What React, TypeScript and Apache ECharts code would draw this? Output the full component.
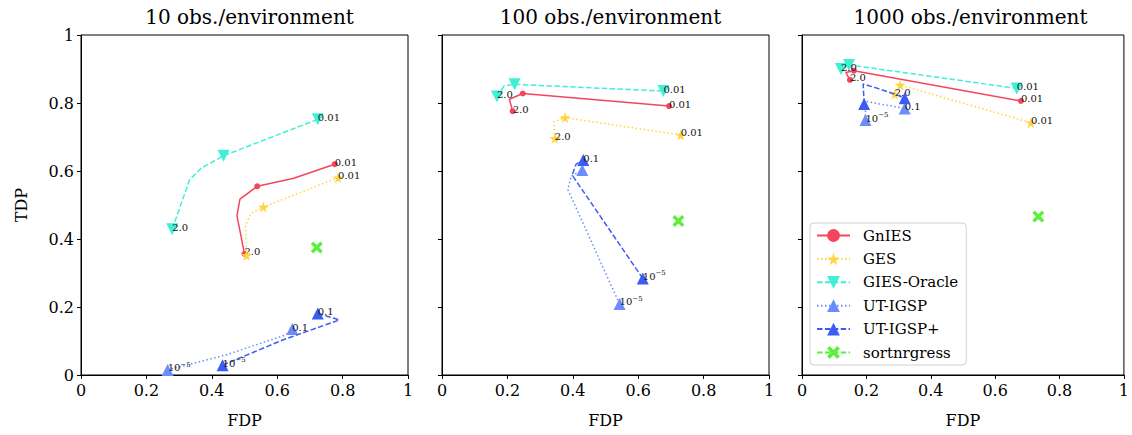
import React, { useEffect, useRef } from 'react';
import * as echarts from 'echarts';

const PANEL_TITLES = ['10 obs./environment', '100 obs./environment', '1000 obs./environment'];
const METHODS = ['GnIES', 'GES', 'GIES-Oracle', 'UT-IGSP', 'UT-IGSP+', 'sortnrgress'];
const AXIS_TICKS = [0, 0.2, 0.4, 0.6, 0.8, 1];

// each point: [FDP, TDP, marker shown (1/0), label]
type Pt = [number, number, number, string];

// 10 obs./environment
const GNIES_10: Pt[] = [[0.500, 0.356, 1, '2.0'], [0.477, 0.468, 0, ''], [0.486, 0.517, 0, ''], [0.539, 0.555, 1, ''], [0.648, 0.578, 0, ''], [0.776, 0.620, 1, '0.01']];
const GES_10: Pt[] = [[0.506, 0.352, 1, ''], [0.503, 0.440, 0, ''], [0.520, 0.475, 0, ''], [0.558, 0.494, 1, ''], [0.786, 0.580, 1, '0.01']];
const GIES_10: Pt[] = [[0.279, 0.429, 1, '2.0'], [0.332, 0.574, 0, ''], [0.367, 0.608, 0, ''], [0.436, 0.645, 1, ''], [0.724, 0.752, 1, '0.01']];
const UTIGSP_10: Pt[] = [[0.265, 0.015, 1, '10^-5'], [0.443, 0.059, 0, ''], [0.627, 0.118, 0, ''], [0.646, 0.135, 1, '0.1']];
const UTIGSPP_10: Pt[] = [[0.433, 0.029, 1, '10^-5'], [0.617, 0.103, 0, ''], [0.790, 0.162, 0, ''], [0.724, 0.181, 1, '0.1']];
const SORT_10: Pt[] = [[0.721, 0.375, 1, '']];

// 100 obs./environment
const GNIES_100: Pt[] = [[0.216, 0.776, 1, '2.0'], [0.206, 0.811, 0, ''], [0.247, 0.828, 1, ''], [0.694, 0.791, 1, '0.01']];
const GES_100: Pt[] = [[0.345, 0.696, 1, '2.0'], [0.342, 0.745, 0, ''], [0.376, 0.757, 1, ''], [0.730, 0.706, 1, '0.01']];
const GIES_100: Pt[] = [[0.168, 0.819, 1, '2.0'], [0.190, 0.850, 0, ''], [0.222, 0.855, 1, ''], [0.677, 0.835, 1, '0.01']];
const UTIGSP_100: Pt[] = [[0.543, 0.209, 1, '10^-5'], [0.385, 0.545, 0, ''], [0.395, 0.585, 0, ''], [0.429, 0.603, 1, '']];
const UTIGSPP_100: Pt[] = [[0.614, 0.284, 1, '10^-5'], [0.398, 0.588, 0, ''], [0.410, 0.620, 0, ''], [0.432, 0.632, 1, '0.1']];
const SORT_100: Pt[] = [[0.723, 0.453, 1, '']];

// 1000 obs./environment
const GNIES_1000: Pt[] = [[0.149, 0.868, 1, '2.0'], [0.136, 0.890, 0, ''], [0.161, 0.895, 1, ''], [0.680, 0.806, 1, '0.01']];
const GES_1000: Pt[] = [[0.288, 0.826, 1, '2.0'], [0.305, 0.853, 1, ''], [0.711, 0.742, 1, '0.01']];
const GIES_1000: Pt[] = [[0.121, 0.900, 1, '2.0'], [0.146, 0.912, 1, ''], [0.667, 0.843, 1, '0.01']];
const UTIGSP_1000: Pt[] = [[0.197, 0.750, 1, '10^-5'], [0.197, 0.805, 0, ''], [0.319, 0.784, 1, '0.1']];
const UTIGSPP_1000: Pt[] = [[0.193, 0.797, 1, ''], [0.190, 0.856, 0, ''], [0.235, 0.843, 0, ''], [0.283, 0.828, 0, ''], [0.319, 0.814, 1, '']];
const SORT_1000: Pt[] = [[0.734, 0.466, 1, '']];

const PANEL_DATA: Pt[][][] = [
  [GNIES_10, GES_10, GIES_10, UTIGSP_10, UTIGSPP_10, SORT_10],
  [GNIES_100, GES_100, GIES_100, UTIGSP_100, UTIGSPP_100, SORT_100],
  [GNIES_1000, GES_1000, GIES_1000, UTIGSP_1000, UTIGSPP_1000, SORT_1000],
];

const STAR = 'path://M50,0 L61,35 L98,35 L68,57 L79,91 L50,70 L21,91 L32,57 L2,35 L39,35 Z';
const XMARK = 'path://M2,0 L5,3 L8,0 L10,2 L7,5 L10,8 L8,10 L5,7 L2,10 L0,8 L3,5 L0,2 Z';
const DASH = [5.5, 2.4];
const DOT = [1.5, 2.5];

const STYLES = [
  { color: '#f5455e', symbol: 'circle', size: 6, rotate: 0, dash: 'solid' as any },
  { color: '#ffd43d', symbol: STAR, size: 11, rotate: 0, dash: DOT },
  { color: '#40f0d5', symbol: 'triangle', size: 12, rotate: 180, dash: DASH },
  { color: '#6b8cff', symbol: 'triangle', size: 12, rotate: 0, dash: DOT },
  { color: '#3d5cf5', symbol: 'triangle', size: 12, rotate: 0, dash: DASH },
  { color: '#5af03c', symbol: XMARK, size: 12, rotate: 0, dash: DASH },
];

const FONT = "'DejaVu Serif', 'Liberation Serif', serif";
const GRID_LEFTS = [81, 442, 802];
const GRID_TOP = 35;
const GRID_W = 327;
const GRID_H = 340;

function labelFmt(lab: string) {
  if (lab === '10^-5') return '{b|10}{s|−5}';
  return '{b|' + lab + '}';
}

export default function App() {
  const ref = useRef<HTMLDivElement>(null);
  useEffect(() => {
    if (!ref.current) return;
    const chart = echarts.init(ref.current, null, { renderer: 'svg' });
    const grids = GRID_LEFTS.map((l) => ({
      left: l, top: GRID_TOP, width: GRID_W, height: GRID_H,
      show: true, borderColor: '#000', borderWidth: 1, backgroundColor: 'transparent',
    }));
    const xAxes = GRID_LEFTS.map((_, i) => ({
      type: 'value', gridIndex: i, min: AXIS_TICKS[0], max: AXIS_TICKS[AXIS_TICKS.length - 1], interval: 0.2,
      name: 'FDP', nameLocation: 'middle', nameGap: 37,
      nameTextStyle: { fontFamily: FONT, fontSize: 16, color: '#000' },
      axisLine: { show: true, lineStyle: { color: '#000', width: 1 } },
      axisTick: { show: true, inside: false, length: 4, lineStyle: { color: '#000' } },
      axisLabel: { fontFamily: FONT, fontSize: 16, color: '#000', margin: 7 },
      splitLine: { show: false },
    }));
    const yAxes = GRID_LEFTS.map((_, i) => ({
      type: 'value', gridIndex: i, min: AXIS_TICKS[0], max: AXIS_TICKS[AXIS_TICKS.length - 1], interval: 0.2,
      name: i === 0 ? 'TDP' : '', nameLocation: 'middle', nameGap: 52,
      nameTextStyle: { fontFamily: FONT, fontSize: 16, color: '#000' },
      axisLine: { show: true, lineStyle: { color: '#000', width: 1 } },
      axisTick: { show: true, inside: false, length: 4, lineStyle: { color: '#000' } },
      axisLabel: { show: i === 0, fontFamily: FONT, fontSize: 16, color: '#000', margin: 7 },
      splitLine: { show: false },
    }));
    const series: any[] = [];
    PANEL_DATA.forEach((panel, p) => {
      panel.forEach((pts, m) => {
        const st = STYLES[m];
        series.push({
          type: 'line', name: METHODS[m], xAxisIndex: p, yAxisIndex: p,
          symbol: st.symbol, symbolSize: st.size, symbolRotate: st.rotate,
          showSymbol: true, showAllSymbol: true,
          lineStyle: { color: st.color, width: 1.5, type: st.dash },
          itemStyle: { color: st.color },
          z: 2 + m,
          emphasis: { disabled: true },
          data: pts.map(([x, y, mk, lab]) => ({
            value: [x, y],
            symbol: mk ? st.symbol : 'none',
            label: lab
              ? {
                  show: true, formatter: labelFmt(lab), position: 'inside', align: 'left', verticalAlign: 'middle',
                  offset: [0, -2], color: '#111',
                  rich: {
                    b: { fontFamily: FONT, fontSize: 10, color: '#111' },
                    s: { fontFamily: FONT, fontSize: 7, color: '#111', padding: [0, 0, 6, 0] },
                  },
                }
              : { show: false },
          })),
        });
      });
    });
    chart.setOption({
      animation: false,
      backgroundColor: '#fff',
      title: PANEL_TITLES.map((t, i) => ({
        text: t, left: GRID_LEFTS[i] + GRID_W / 2, top: 2, textAlign: 'center',
        textStyle: { fontFamily: FONT, fontSize: 20, fontWeight: 'normal', color: '#000' },
      })),
      grid: grids,
      xAxis: xAxes,
      yAxis: yAxes,
      legend: {
        data: METHODS, orient: 'vertical', left: 810, top: 223,
        itemWidth: 33, itemHeight: 16, itemGap: 8.4,
        padding: [5, 8, 5, 6],
        backgroundColor: '#fff', borderColor: '#d0d0d0', borderWidth: 1, borderRadius: 4,
        textStyle: { fontFamily: FONT, fontSize: 15, color: '#000', padding: [0, 0, 0, 8] },
        selectedMode: false,
      },
      series,
    });
    return () => chart.dispose();
  }, []);
  return <div ref={ref} style={{ position: 'fixed', left: 0, top: 0, width: 1132, height: 435 }} />;
}
